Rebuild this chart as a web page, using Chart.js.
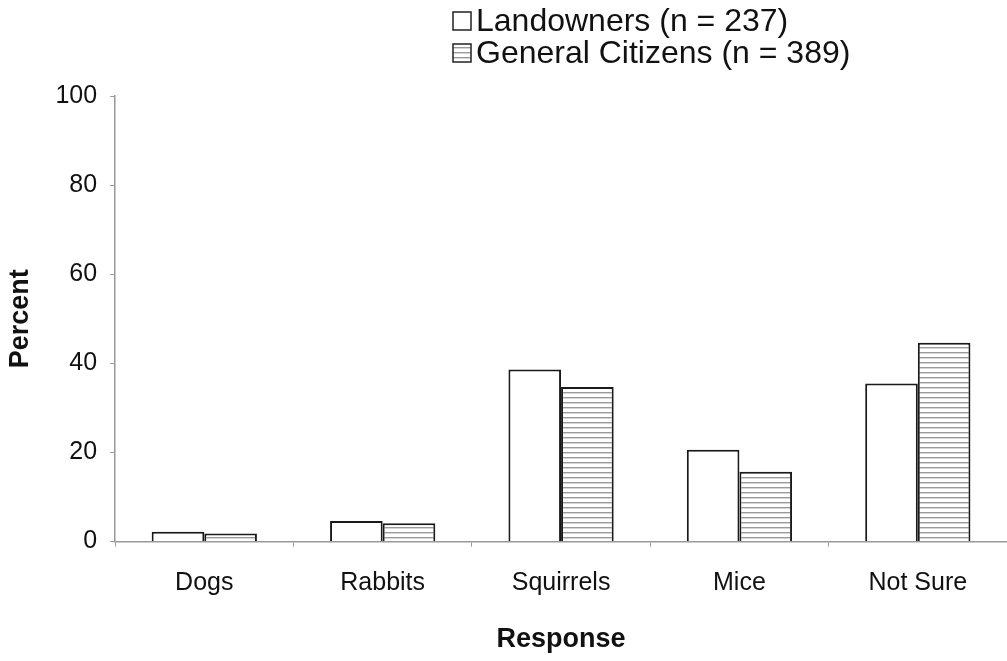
<!DOCTYPE html>
<html>
<head>
<meta charset="utf-8">
<script src="https://cdn.jsdelivr.net/npm/chart.js@4.4.0/dist/chart.umd.min.js"></script>
<style>
  body { margin: 0; background: #fff; }
  canvas { display: block; }
</style>
</head>
<body>
<canvas id="grafico" width="1007" height="661"></canvas>
<script>
// data
var categorias = ['Dogs', 'Rabbits', 'Squirrels', 'Mice', 'Not Sure']
var landowners = [2.2, 4.6, 38.6, 20.6, 35.5]
var ciudadanos = [1.8, 4.1, 34.7, 15.7, 44.6]
var etiquetas = ['Landowners (n = 237)', 'General Citizens (n = 389)']

var fuente = "'Liberation Sans', Arial, sans-serif"

// horizontal hatch for the second series
function rayado() {
    var c = document.createElement('canvas')
    c.width = 8
    c.height = 5
    var g = c.getContext('2d')
    g.fillStyle = '#ffffff'
    g.fillRect(0, 0, 8, 5)
    g.fillStyle = '#9a9a9a'
    g.fillRect(0, 2, 8, 1.4)
    return document.getElementById('grafico').getContext('2d').createPattern(c, 'repeat')
}
var trama = rayado()

// legend drawn by hand, stacked at the top right
var leyenda = {
    id: 'leyenda',
    afterDraw: function(chart) {
        var ctx = chart.ctx
        ctx.save()
        ctx.font = '32px ' + fuente
        ctx.textBaseline = 'middle'
        var filas = [21, 53]
        chart.data.datasets.forEach(function(ds, i) {
            var y = filas[i]
            ctx.fillStyle = i == 0 ? '#ffffff' : trama
            ctx.fillRect(453, y - 9, 18, 18)
            ctx.lineWidth = 1.5
            ctx.strokeStyle = '#222'
            ctx.strokeRect(453, y - 9, 18, 18)
            ctx.fillStyle = '#111'
            ctx.fillText(ds.label, 476, y + 1)
        })
        ctx.restore()
    }
}

var mychart = new Chart(document.getElementById('grafico'),
    {
        type: 'bar',
        data:
            {
                labels: categorias,
                datasets:
                    [{
                        label: etiquetas[0],
                        data: landowners,
                        backgroundColor: '#ffffff',
                        borderColor: '#1a1a1a',
                        borderWidth: 2
                    },
                    {
                        label: etiquetas[1],
                        data: ciudadanos,
                        backgroundColor: trama,
                        borderColor: '#1a1a1a',
                        borderWidth: 2
                    }]
            },
        options:
            {
                responsive: false,
                animation: false,
                categoryPercentage: 0.59,
                barPercentage: 1,
                layout: { padding: { top: 96, right: 0, bottom: 1, left: 0 } },
                plugins:
                    {
                        legend: { display: false },
                        tooltip: { enabled: false }
                    },
                scales:
                    {
                        x:
                            {
                                grid: { display: true, drawOnChartArea: false, color: '#999', tickLength: 5 },
                                border: { color: '#999', width: 1.5 },
                                ticks: { color: '#111', font: { family: fuente, size: 25 }, padding: 22 },
                                title: { display: true, text: 'Response', color: '#111', font: { family: fuente, size: 27, weight: 'bold' }, padding: { top: 3 } }
                            },
                        y:
                            {
                                min: 0,
                                max: 100,
                                grid: { drawOnChartArea: false, color: '#999', tickLength: 5 },
                                border: { color: '#999', width: 1.5 },
                                ticks: { stepSize: 20, color: '#111', font: { family: fuente, size: 25 }, padding: 13 },
                                title: { display: true, text: 'Percent', color: '#111', font: { family: fuente, size: 27, weight: 'bold' }, padding: { bottom: 6 } }
                            }
                    }
            },
        plugins: [leyenda]
    })
</script>
</body>
</html>
